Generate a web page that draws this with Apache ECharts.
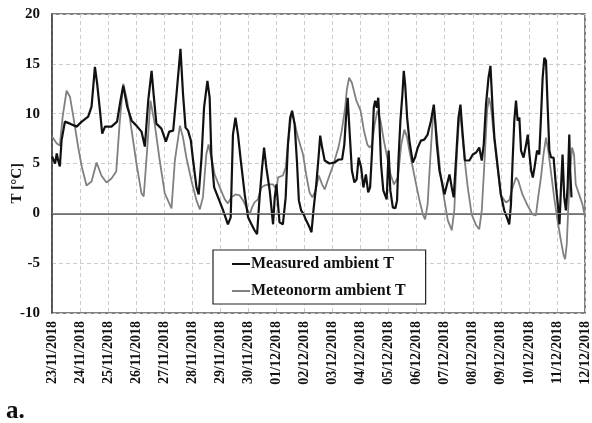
<!DOCTYPE html>
<html>
<head>
<meta charset="utf-8">
<script src="https://cdn.jsdelivr.net/npm/echarts@6/dist/echarts.min.js"></script>
<style>
html,body{margin:0;padding:0;background:#fff;}
#chart{width:592px;height:423px;}
</style>
</head>
<body>
<div id="chart"></div>
<script>
// Date tick labels (one per day, day offset 0..19)
var dateLabels = ['23/11/2018','24/11/2018','25/11/2018','26/11/2018','27/11/2018','28/11/2018','29/11/2018','30/11/2018','01/12/2018','02/12/2018','03/12/2018','04/12/2018','05/12/2018','06/12/2018','07/12/2018','08/12/2018','09/12/2018','10/12/2018','11/12/2018','12/12/2018'];
var yTicks = [-10, -5, 0, 5, 10, 15, 20];

// Measured ambient T: time in days from 23/11/2018 00:00, value in °C
var measuredDays = [0,0.11,0.17,0.22,0.28,0.34,0.46,0.64,0.88,1.06,1.29,1.41,1.53,1.61,1.71,1.79,1.89,2.12,2.32,2.44,2.54,2.68,2.84,3.01,3.19,3.31,3.43,3.55,3.63,3.72,3.90,4.06,4.18,4.32,4.44,4.58,4.67,4.76,4.85,4.95,5.03,5.15,5.23,5.33,5.42,5.54,5.62,5.68,5.78,5.92,6.10,6.27,6.37,6.45,6.54,6.63,6.73,6.87,6.99,7.11,7.22,7.31,7.40,7.49,7.56,7.64,7.76,7.88,7.94,8.00,8.11,8.23,8.33,8.41,8.49,8.56,8.65,8.73,8.80,8.88,8.97,9.06,9.18,9.25,9.32,9.42,9.51,9.56,9.63,9.72,9.89,10.07,10.22,10.34,10.42,10.48,10.54,10.60,10.69,10.78,10.86,10.93,11.02,11.10,11.19,11.27,11.34,11.41,11.47,11.52,11.58,11.63,11.67,11.73,11.81,11.93,12.00,12.06,12.15,12.24,12.30,12.35,12.42,12.49,12.54,12.59,12.66,12.74,12.86,12.94,13.04,13.15,13.27,13.39,13.51,13.61,13.65,13.72,13.81,13.89,13.99,14.08,14.17,14.25,14.32,14.40,14.49,14.56,14.64,14.72,14.88,15.00,15.12,15.23,15.32,15.39,15.47,15.56,15.63,15.71,15.77,15.89,16.00,16.12,16.24,16.30,16.36,16.42,16.48,16.54,16.60,16.66,16.72,16.81,16.90,16.96,17.02,17.08,17.14,17.20,17.29,17.37,17.43,17.49,17.55,17.61,17.67,17.73,17.79,17.88,17.96,18.05,18.09,18.14,18.20,18.26,18.32,18.38,18.44,18.47,18.52];
var measuredT = [5.7,5.0,6.0,5.3,4.7,7.3,9.2,9.0,8.7,9.2,9.7,10.7,14.7,13.0,10.3,8.0,8.7,8.7,9.2,11.3,12.8,10.7,9.3,8.8,8.2,6.7,11.3,14.3,11.7,9.0,8.5,7.2,8.2,8.3,12.0,16.5,12.0,8.6,8.3,7.3,5.3,2.6,1.9,5.6,10.6,13.3,11.6,5.9,2.6,1.6,0.3,-1.1,-0.4,7.9,9.6,7.9,5.3,1.9,-0.4,-1.1,-1.7,-2.1,1.6,4.6,6.6,4.6,2.3,-1.1,1.6,2.9,-0.9,-1.1,1.6,6.9,9.6,10.3,8.9,5.3,1.3,0.3,-0.1,-0.7,-1.4,-1.9,0.3,2.9,5.9,7.8,6.6,5.3,5.0,5.1,5.4,5.4,6.9,9.6,11.6,8.6,4.3,3.1,3.4,5.6,4.6,2.6,3.9,2.1,2.6,6.3,10.6,11.3,10.6,11.6,9.3,4.9,2.3,1.4,6.3,2.3,0.6,0.5,1.3,5.3,9.3,11.9,14.3,12.9,9.6,7.3,5.1,5.6,6.6,7.3,7.4,7.9,9.3,10.9,9.6,6.9,4.3,3.3,1.9,2.9,3.9,2.6,1.6,5.3,9.6,10.9,7.9,5.3,5.3,5.9,6.1,6.6,5.3,6.9,10.9,13.6,14.8,10.3,7.6,4.6,1.9,0.3,-0.6,-1.1,0.9,5.3,9.3,11.3,9.3,9.6,6.3,5.6,6.9,7.9,5.9,4.3,3.6,4.6,6.3,5.9,9.6,13.6,15.6,15.3,10.6,6.3,5.6,5.6,2.9,0.3,-1.1,2.3,5.9,1.6,0.3,2.6,7.9,4.3,1.6];

// Meteonorm ambient T
var meteoDays = [0,0.17,0.28,0.38,0.52,0.64,0.76,0.93,1.06,1.23,1.41,1.59,1.76,1.94,2.12,2.29,2.41,2.54,2.68,2.84,3.01,3.19,3.27,3.39,3.51,3.66,3.84,4.02,4.26,4.38,4.56,4.67,4.79,4.97,5.15,5.27,5.38,5.50,5.58,5.68,5.80,5.98,6.16,6.27,6.39,6.54,6.69,6.81,6.93,7.05,7.13,7.22,7.34,7.46,7.58,7.76,7.88,8.00,8.06,8.23,8.33,8.41,8.53,8.61,8.77,8.95,9.06,9.18,9.28,9.40,9.51,9.63,9.72,9.84,10.03,10.21,10.33,10.45,10.51,10.59,10.69,10.85,11.00,11.12,11.24,11.33,11.41,11.50,11.60,11.71,11.83,11.95,12.07,12.19,12.33,12.45,12.56,12.66,12.74,12.86,12.98,13.10,13.22,13.30,13.39,13.48,13.57,13.63,13.69,13.77,13.86,13.99,14.11,14.25,14.34,14.44,14.52,14.58,14.70,14.82,14.96,15.12,15.23,15.32,15.42,15.51,15.58,15.65,15.77,15.91,16.00,16.18,16.30,16.42,16.54,16.62,16.77,16.95,17.13,17.25,17.33,17.43,17.52,17.61,17.69,17.78,17.90,18.02,18.14,18.23,18.29,18.35,18.40,18.47,18.54,18.61,18.67,18.79,18.91,19.00];
var meteoT = [7.7,7.0,6.8,9.7,12.3,11.7,9.7,6.7,4.7,2.8,3.2,5.1,3.8,3.1,3.5,4.2,9.0,13.0,11.3,8.3,5.0,2.0,1.7,6.3,11.3,9.0,5.3,2.0,0.5,5.3,8.8,7.6,5.6,3.3,1.3,0.4,1.6,5.9,6.9,5.6,3.9,2.6,1.4,1.0,1.6,1.9,1.8,1.3,0.6,-0.1,0.6,1.1,1.4,2.6,2.8,2.9,2.9,2.4,3.6,3.8,4.6,6.9,9.9,9.6,7.6,5.9,3.9,2.1,1.6,2.3,3.8,2.9,2.4,3.4,4.9,6.6,8.3,10.6,12.4,13.6,13.1,11.3,10.3,8.3,6.9,6.6,6.9,8.9,10.3,9.3,7.3,5.6,3.9,2.9,3.6,6.9,8.4,7.6,6.3,4.6,2.9,1.3,-0.1,-0.6,0.9,5.3,9.3,10.3,8.6,6.3,3.6,1.3,-0.7,-1.7,0.3,6.3,9.9,9.3,5.6,2.6,-0.1,-1.2,-1.6,0.3,5.3,10.3,11.6,10.6,7.3,3.9,1.8,1.1,1.3,2.6,3.6,3.3,1.9,0.8,-0.1,-0.2,1.6,3.6,5.9,7.6,6.3,4.3,1.6,-0.7,-2.7,-4.1,-4.6,-3.1,0.3,4.3,6.6,5.9,2.9,1.9,0.9,-0.4];

function zip(xs, ys) {
  var out = [];
  for (var i = 0; i < xs.length; i++) out.push([xs[i], ys[i]]);
  return out;
}

var serif = '"Liberation Serif","Times New Roman",serif';
var chart = echarts.init(document.getElementById('chart'), null, {renderer: 'canvas'});
chart.setOption({
  animation: false,
  backgroundColor: '#fff',
  grid: {left: 52, right: 6, top: 14, bottom: 110, show: true, borderColor: '#555', borderWidth: 1.5, containLabel: false},
  xAxis: {
    type: 'value', min: 0, max: dateLabels.length - 1, interval: 1,
    axisLine: {show: true, lineStyle: {color: '#444', width: 1.5}},
    axisTick: {show: false},
    splitLine: {show: true, lineStyle: {color: '#cccccc', type: [4, 3], width: 1}},
    axisLabel: {
      rotate: 90, margin: 8, fontFamily: serif, fontWeight: 'bold', fontSize: 14, color: '#111',
      formatter: function (v) { return dateLabels[Math.round(v)] || ''; }
    }
  },
  yAxis: {
    type: 'value', min: yTicks[0], max: yTicks[yTicks.length - 1], interval: 5,
    axisLine: {show: true, lineStyle: {color: '#444', width: 1.5}},
    axisTick: {show: false},
    splitLine: {show: true, lineStyle: {color: '#cccccc', type: [4, 3], width: 1}},
    axisLabel: {margin: 12, fontFamily: serif, fontWeight: 'bold', fontSize: 15, color: '#111'}
  },
  legend: {
    orient: 'vertical', left: 213, top: 250,
    backgroundColor: '#fff', borderColor: '#222', borderWidth: 1.2,
    padding: [6, 20, 5, 19], itemGap: 11, itemWidth: 18, itemHeight: 2,
    textStyle: {fontFamily: serif, fontWeight: 'bold', fontSize: 16, color: '#111', padding: [0, 0, 0, -4]},
    data: [
      {name: 'Measured ambient T', icon: 'rect', itemStyle: {color: '#111'}},
      {name: 'Meteonorm ambient T', icon: 'rect', itemStyle: {color: '#808080'}}
    ]
  },
  graphic: [
    {type: 'text', left: 10, top: 163, rotation: Math.PI / 2,
     style: {text: 'T [°C]', fontFamily: serif, fontWeight: 'bold', fontSize: 15, fill: '#111'}},
    {type: 'text', left: 6, top: 399,
     style: {text: 'a.', fontFamily: serif, fontWeight: 'bold', fontSize: 25, fill: '#111'}}
  ],
  series: [
    {
      name: 'Meteonorm ambient T', type: 'line', symbol: 'none', z: 2,
      lineStyle: {color: '#808080', width: 1.8}, itemStyle: {color: '#808080'},
      data: zip(meteoDays, meteoT),
      markLine: {silent: true, symbol: 'none', label: {show: false},
        lineStyle: {color: '#888', type: 'solid', width: 1}, data: [{yAxis: 0}]}
    },
    {
      name: 'Measured ambient T', type: 'line', symbol: 'none', z: 3,
      lineStyle: {color: '#111', width: 2.2}, itemStyle: {color: '#111'},
      data: zip(measuredDays, measuredT)
    }
  ]
});
</script>
</body>
</html>
